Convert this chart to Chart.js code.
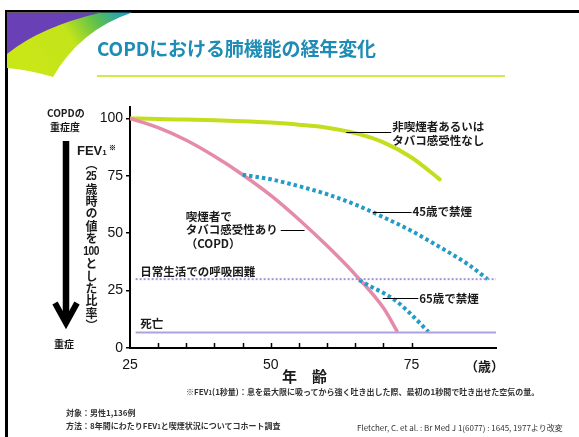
<!DOCTYPE html>
<html lang="ja">
<head>
<meta charset="utf-8">
<script src="https://cdn.jsdelivr.net/npm/chart.js@4.4.1/dist/chart.umd.min.js"></script>
<style>
  html, body { margin: 0; padding: 0; background: #fff; }
  body { width: 579px; height: 437px; position: relative; overflow: hidden;
         font-family: "Noto Sans CJK JP", "Noto Sans", sans-serif; }
  #chart { position: absolute; left: 0; top: 0; }
  .frame-l { position: absolute; left: 5px; top: 10px; width: 2.5px; height: 427px; background: #000; }
  .frame-t { position: absolute; left: 5px; top: 10px; width: 574px; height: 2.5px; background: #000; }
  .deco { position: absolute; left: 0; top: 0; }
  .title { position: absolute; left: 97px; top: 34px; font-size: 19px; font-weight: 700;
           color: #1e8cb4; white-space: nowrap; letter-spacing: -0.1px; line-height: 28px; }
  .rule { position: absolute; left: 97px; top: 75px; width: 408px; height: 2px; background: #d3e84a; }
  .t { position: absolute; white-space: nowrap; color: #1a1a1a; font-weight: 700; line-height: 1; }
  .small { font-size: 10px; }
  .note { font-size: 8px; font-weight: 700; color: #333; }
  .num { font-family: "Liberation Sans", sans-serif; }
  .vert { position: absolute; left: 82px; top: 158px; writing-mode: vertical-rl; font-size: 12px;
          font-weight: 700; color: #1a1a1a; line-height: 12px; letter-spacing: 0.3px; }
  .hz { writing-mode: horizontal-tb; display: inline-block; font-family: "Liberation Sans", sans-serif;
        font-size: 12px; line-height: 13px; letter-spacing: -0.6px; transform: scaleX(0.85); }
</style>
</head>
<body>
<canvas id="chart" width="579" height="437"></canvas>

<div class="frame-l"></div>
<div class="frame-t"></div>
<svg class="deco" width="140" height="90" viewBox="0 0 140 90">
  <defs>
    <linearGradient id="swoosh" x1="40" y1="72" x2="128" y2="12" gradientUnits="userSpaceOnUse">
      <stop offset="0" stop-color="#c9e617"/>
      <stop offset="0.42" stop-color="#c3e41a"/>
      <stop offset="0.7" stop-color="#5fc04c"/>
      <stop offset="1" stop-color="#1a9ccb"/>
    </linearGradient>
  </defs>
  <path d="M7,12.5 L132,12.5 Q80,30 53,77 Q30,70 7,68 Z" fill="url(#swoosh)"/>
  <path d="M7,12.5 L101,12.5 Q40,27 7,54 Z" fill="#6a40b6"/>
</svg>

<div class="title">COPDにおける肺機能の経年変化</div>
<div class="rule"></div>

<!-- severity scale on the left -->
<div class="t small" style="left:47px; top:108px;">COPDの</div>
<div class="t small" style="left:50px; top:122px;">重症度</div>
<div class="t small" style="left:54px; top:339px;">重症</div>
<svg style="position:absolute;left:40px;top:130px;" width="50" height="210">
  <line x1="26" y1="11" x2="26" y2="190" stroke="#000" stroke-width="6.5"/>
  <polyline points="15,173 26,193 37,173" fill="none" stroke="#000" stroke-width="6" stroke-linejoin="miter"/>
</svg>
<div class="t num" style="left:77px; top:144px; font-size:13px;">FEV<span style="font-size:8px;">1</span><span style="font-size:7px; vertical-align:5px; margin-left:2px;">※</span></div>
<div class="vert">（<span class="hz">25</span>歳時の値を<span class="hz">100</span>とした比率）</div>

<!-- x axis captions and notes -->
<div class="t" style="left:465px; top:359px; font-size:13px;">（歳）</div>
<div class="t" style="left:282px; top:368px; font-size:15px;">年　齢</div>
<div class="t note" style="left:186px; top:388px;">※FEV<span style="font-size:6px;">1</span>(1秒量)：息を最大限に吸ってから強く吐き出した際、最初の1秒間で吐き出せた空気の量。</div>
<div class="t note" style="left:66px; top:409px;">対象：男性1,136例</div>
<div class="t note" style="left:66px; top:422px;">方法：8年間にわたりFEV<span style="font-size:6px;">1</span>と喫煙状況についてコホート調査</div>
<div class="t note" style="left:357px; top:424px; font-weight:400;">Fletcher, C. et al. : Br Med J 1(6077) : 1645, 1977より改変</div>

<script>
// FEV1 (% of value at age 25) against age
const nonSmokerAges   = [25, 30, 35, 40, 45, 50, 55, 60, 65, 70, 75, 80];
const nonSmokerFev    = [100, 99.8, 99.5, 99.2, 98.8, 98.2, 97.3, 96, 93.6, 89.6, 83, 73.5];

const copdAges        = [25, 30, 35, 40, 45, 50, 55, 60, 65, 70, 72.5];
const copdFev         = [100, 96, 90.5, 83.5, 75.5, 66.5, 56, 44.5, 32, 17.5, 7];

const quit45Ages      = [45, 50, 55, 60, 65, 70, 75, 80, 85, 88.5];
const quit45Fev       = [75.5, 73.5, 70.5, 67, 62.5, 57, 51, 44, 36.5, 30];

const quit65Ages      = [65.7, 68, 70, 72, 75, 78];
const quit65Fev       = [29.6, 26.5, 24, 21, 14.5, 7];

const thresholdAges   = [26, 90];
const dyspneaLevel    = [30, 30];
const deathLevel      = [6.7, 6.7];

const yTickValues     = [0, 25, 50, 75, 100];
const xTickValues     = [25, 30, 35, 40, 45, 50, 55, 60, 65, 70, 75];
const xLabelValues    = [25, 50, 75];

const pts = (xs, ys) => xs.map((x, i) => ({ x: x, y: ys[i] }));

const JP = '"Noto Sans CJK JP", sans-serif';
const NUM = '"Liberation Sans", sans-serif';

// Callout texts with their leader lines (ages / FEV values)
const callouts = [
  { lines: ['非喫煙者あるいは', 'タバコ感受性なし'], from: 63.4, to: 71.4, at: 94.2, side: 'right', offs: [-5, 8.5] },
  { lines: ['45歳で禁煙'], from: 68.1, to: 75.0, at: 59.4, side: 'right', offs: [0] },
  { lines: ['65歳で禁煙'], from: 69.9, to: 76.2, at: 21.7, side: 'right', offs: [0] },
  { lines: ['喫煙者で', 'タバコ感受性あり', '（COPD）'], from: 34.9, to: 56.0, at: 51.4, side: 'left', offs: [-13.3, 0, 13.3] },
  { lines: ['日常生活での呼吸困難'], from: 26.8, at: 33.2, side: 'none', offs: [0] },
  { lines: ['死亡'], from: 26.8, at: 10.5, side: 'none', offs: [0] }
];

const decorations = {
  id: 'decorations',
  afterDatasetsDraw(chart) {
    const { ctx, scales: { x, y } } = chart;
    ctx.save();
    // inward tick marks on the age axis
    ctx.strokeStyle = '#000';
    ctx.lineWidth = 1.5;
    xTickValues.forEach(v => {
      if (v === x.min) return;
      const px = Math.round(x.getPixelForValue(v)) + 0.5;
      ctx.beginPath();
      ctx.moveTo(px, y.bottom);
      ctx.lineTo(px, y.bottom - 5);
      ctx.stroke();
    });
    // callouts
    ctx.font = 'bold 11.5px ' + JP;
    ctx.fillStyle = '#1a1a1a';
    ctx.textBaseline = 'middle';
    ctx.lineWidth = 1;
    callouts.forEach(c => {
      const py = y.getPixelForValue(c.at);
      if (c.side === 'right') {
        const x0 = x.getPixelForValue(c.from), x1 = x.getPixelForValue(c.to);
        ctx.beginPath(); ctx.moveTo(x0, Math.round(py) + 0.5); ctx.lineTo(x1, Math.round(py) + 0.5); ctx.stroke();
        c.lines.forEach((s, i) => ctx.fillText(s, x1 + 1, py + c.offs[i]));
      } else if (c.side === 'left') {
        const tx = x.getPixelForValue(c.from);
        c.lines.forEach((s, i) => ctx.fillText(s, tx, py + c.offs[i]));
        const w = ctx.measureText(c.lines[1]).width;
        ctx.beginPath(); ctx.moveTo(tx + w + 3, Math.round(py) + 0.5);
        ctx.lineTo(x.getPixelForValue(c.to), Math.round(py) + 0.5); ctx.stroke();
      } else {
        ctx.fillText(c.lines[0], x.getPixelForValue(c.from), py);
      }
    });
    ctx.restore();
  }
};

new Chart(document.getElementById('chart'), {
  type: 'line',
  data: {
    datasets: [
      { data: pts(thresholdAges, deathLevel), borderColor: '#aaa4dc', borderWidth: 2, pointRadius: 0 },
      { data: pts(thresholdAges, dyspneaLevel), borderColor: '#9f96da', borderWidth: 2, borderDash: [2, 2], pointRadius: 0 },
      { data: pts(quit65Ages, quit65Fev), borderColor: '#229cc7', borderWidth: 4, borderDash: [3.5, 3],
        pointRadius: 0, cubicInterpolationMode: 'monotone' },
      { data: pts(quit45Ages, quit45Fev), borderColor: '#229cc7', borderWidth: 4, borderDash: [3.5, 3],
        pointRadius: 0, cubicInterpolationMode: 'monotone' },
      { data: pts(copdAges, copdFev), borderColor: '#e68aaa', borderWidth: 3.5, pointRadius: 0,
        cubicInterpolationMode: 'monotone' },
      { data: pts(nonSmokerAges, nonSmokerFev), borderColor: '#c4de1e', borderWidth: 4, pointRadius: 0,
        cubicInterpolationMode: 'monotone', borderCapStyle: 'round' }
    ]
  },
  options: {
    responsive: false,
    animation: false,
    devicePixelRatio: 1,
    layout: { padding: { left: 0, top: 107, right: 83, bottom: 0 } },
    plugins: { legend: { display: false }, tooltip: { enabled: false } },
    scales: {
      x: {
        type: 'linear', min: 25, max: 90,
        afterBuildTicks: s => { s.ticks = xTickValues.map(v => ({ value: v })); },
        afterFit: s => { s.height = 89; },
        grid: { display: false, drawTicks: false },
        border: { display: true, color: '#000', width: 2 },
        ticks: {
          autoSkip: false, maxRotation: 0, padding: 9, color: '#111',
          font: { family: NUM, size: 14 },
          callback: v => (xLabelValues.includes(v) ? String(v) : '')
        }
      },
      y: {
        min: 0, max: 105,
        afterBuildTicks: s => { s.ticks = yTickValues.map(v => ({ value: v })); },
        afterFit: s => { s.width = 130; },
        grid: { drawOnChartArea: false, drawTicks: true, tickLength: 4, color: '#000', lineWidth: 1.5 },
        border: { display: true, color: '#000', width: 2 },
        ticks: { padding: 3, color: '#111', font: { family: NUM, size: 14 } }
      }
    }
  },
  plugins: [decorations]
});
</script>
</body>
</html>
